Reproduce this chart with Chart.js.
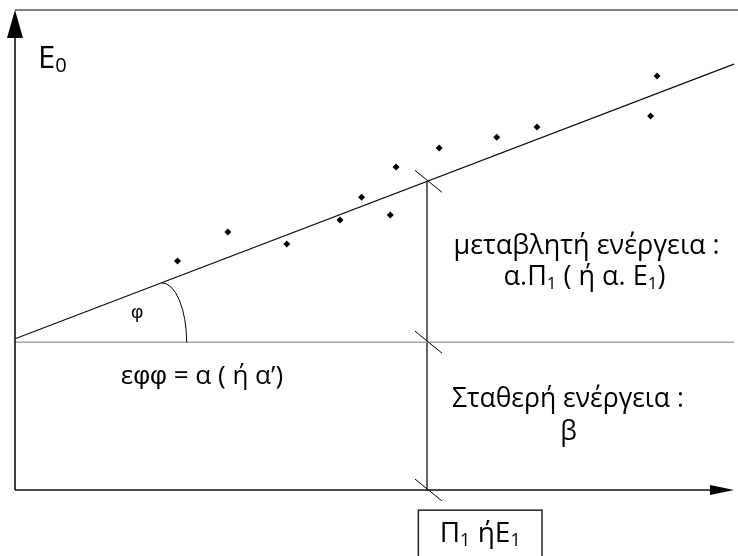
<!DOCTYPE html>
<html>
<head>
<meta charset="utf-8">
<script src="https://cdn.jsdelivr.net/npm/chart.js@4.4.1/dist/chart.umd.min.js"></script>
<style>
html,body{margin:0;padding:0;background:#fff;}
#wrap{width:738px;height:556px;}
</style>
</head>
<body>
<div id="wrap"><canvas id="c" width="738" height="556"></canvas></div>
<script>
// ---- data (arbitrary units, 0..100 on both axes) ----
const pointX = [22.6, 29.6, 37.8, 45.2, 48.2, 52.2, 53.0, 59.0, 67.0, 72.6, 88.4, 89.3];
const pointY = [47.7, 53.75, 51.25, 56.25, 61.0, 57.3, 67.3, 71.25, 73.5, 75.6, 77.9, 86.25];
const fitX = [0, 100];
const fitY = [31.5, 88.75];
const betaY = 30.8;      // fixed energy level β
const pi1X = 57.3;       // Π1 / E1 position
const angleArcX = 20.4;  // where the φ arc meets the fitted line

function fitAt(x){ return fitY[0] + (fitY[1]-fitY[0])*(x-fitX[0])/(fitX[1]-fitX[0]); }

const FONT = '"Open Sans", "Noto Sans", sans-serif';
const PHI_FONT = '"Liberation Sans", "Open Sans", sans-serif';

// text annotations: segments [text, isSubscript, useAltFont]
const labels = [
  {seg:[['E',0],['0',1]], x:3.2, y:87.9, size:31, align:'left'},
  {seg:[['μεταβλητή ενέργεια :',0]], x:79.5, y:49.2, size:27, align:'center'},
  {seg:[['α.Π',0],['1',1],[' ( ή α. E',0],['1',1],[')',0]], x:79.2, y:42.7, size:27, align:'center'},
  {seg:[['Σταθερή ενέργεια :',0]], x:76.9, y:17.3, size:26.5, align:'center'},
  {seg:[['β',0]], x:77.0, y:10.4, size:26.5, align:'center'},
  {seg:[['ε',0],['φφ',0,1],[' = α ( ή α’)',0]], x:26.0, y:22.1, size:26, align:'center'},
  {seg:[['φ',0,1]], x:17.0, y:35.8, size:19, align:'center'},
  {seg:[['Π',0],['1',1],[' ή',0],['E',0],['1',1]], x:64.7, y:-10.8, size:28, align:'center'}
];
const boxX = [56.1, 73.3];
const boxY = [-4.2, -15];

function drawRich(ctx, l, px, py){
  const subSize = Math.round(l.size*0.64);
  let total = 0;
  const parts = l.seg.map(([t,sub,alt])=>{
    const f = (sub?subSize:l.size)+'px '+(alt?PHI_FONT:FONT);
    ctx.font = f;
    const w = ctx.measureText(t).width;
    total += w;
    return {t,sub,w,f};
  });
  let x = l.align==='center' ? px - total/2 : px;
  ctx.textBaseline = 'alphabetic';
  ctx.textAlign = 'left';
  ctx.fillStyle = '#000';
  parts.forEach(p=>{
    ctx.font = p.f;
    ctx.fillText(p.t, x, py + (p.sub ? l.size*0.14 : 0));
    x += p.w;
  });
}

const decor = {
  id:'decor',
  afterDatasetsDraw(chart){
    const ctx = chart.ctx, a = chart.chartArea;
    const xs = chart.scales.x, ys = chart.scales.y;
    ctx.save();
    // top gray border
    ctx.strokeStyle = '#7f7f7f'; ctx.lineWidth = 2;
    ctx.beginPath(); ctx.moveTo(a.left, a.top); ctx.lineTo(chart.width, a.top); ctx.stroke();
    // axes
    ctx.strokeStyle = '#111'; ctx.lineWidth = 1.6;
    ctx.beginPath(); ctx.moveTo(a.left, a.bottom); ctx.lineTo(a.right-20, a.bottom); ctx.stroke();
    ctx.beginPath(); ctx.moveTo(a.left, a.bottom); ctx.lineTo(a.left, a.top+25); ctx.stroke();
    ctx.fillStyle = '#000';
    ctx.beginPath(); ctx.moveTo(a.left, a.top); ctx.lineTo(a.left-8, a.top+28); ctx.lineTo(a.left+8, a.top+28); ctx.closePath(); ctx.fill();
    ctx.beginPath(); ctx.moveTo(a.right, a.bottom); ctx.lineTo(a.right-24, a.bottom-5); ctx.lineTo(a.right-24, a.bottom+5); ctx.closePath(); ctx.fill();
    // tick marks at Π1
    ctx.strokeStyle = '#000'; ctx.lineWidth = 1;
    const px = xs.getPixelForValue(pi1X);
    [fitAt(pi1X), betaY, 0].forEach(v=>{
      const py = ys.getPixelForValue(v);
      ctx.beginPath(); ctx.moveTo(px-12, py-11); ctx.lineTo(px+15, py+11); ctx.stroke();
    });
    // angle arc φ
    const cx = xs.getPixelForValue(angleArcX), cy = ys.getPixelForValue(betaY);
    const ty = ys.getPixelForValue(fitAt(angleArcX));
    ctx.beginPath(); ctx.ellipse(cx, cy, 25, cy-ty, 0, -Math.PI/2, 0); ctx.stroke();
    // box
    ctx.strokeStyle = '#222'; ctx.lineWidth = 1.5;
    const bx0 = xs.getPixelForValue(boxX[0]), bx1 = xs.getPixelForValue(boxX[1]);
    const by0 = ys.getPixelForValue(boxY[0]), by1 = ys.getPixelForValue(boxY[1]);
    ctx.strokeRect(bx0, by0, bx1-bx0, by1-by0);
    // labels
    labels.forEach(l=> drawRich(ctx, l, xs.getPixelForValue(l.x), ys.getPixelForValue(l.y)));
    ctx.restore();
  }
};

new Chart(document.getElementById('c'), {
  type:'scatter',
  data:{
    datasets:[
      {data: pointX.map((x,i)=>({x, y:pointY[i]})), pointStyle:'rectRot', radius:3.5, backgroundColor:'#000', borderColor:'#000', borderWidth:0},
      {data: fitX.map((x,i)=>({x, y:fitY[i]})), showLine:true, borderColor:'#000', borderWidth:1.2, pointRadius:0},
      {data: [{x:0,y:betaY},{x:100,y:betaY}], showLine:true, borderColor:'#a6a6a6', borderWidth:1.5, pointRadius:0},
      {data: [{x:pi1X,y:0},{x:pi1X,y:fitAt(pi1X)}], showLine:true, borderColor:'#000', borderWidth:1.2, pointRadius:0}
    ]
  },
  options:{
    responsive:false, animation:false,
    layout:{padding:{left:15, top:10, right:1, bottom:66}},
    plugins:{legend:{display:false}, tooltip:{enabled:false}},
    scales:{
      x:{type:'linear', min:0, max:100, display:false},
      y:{type:'linear', min:0, max:100, display:false}
    }
  },
  plugins:[decor]
});
</script>
</body>
</html>
